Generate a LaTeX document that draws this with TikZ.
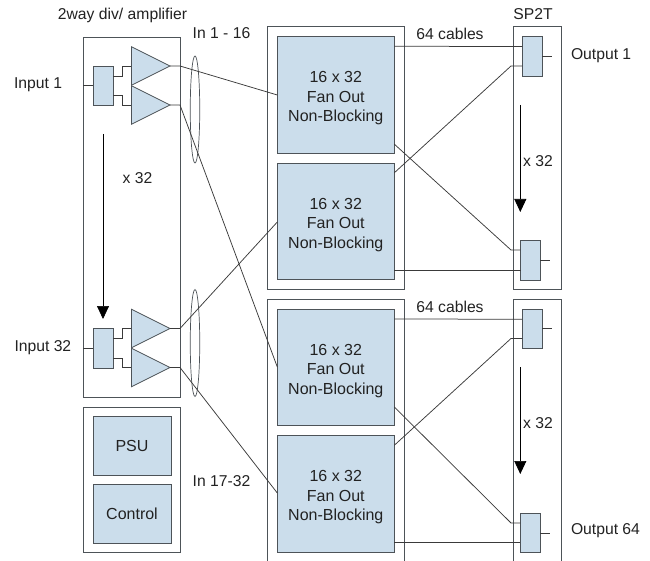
\documentclass[tikz,border=0pt]{standalone}
\usepackage{fontspec}
\setmainfont{Liberation Sans}
\usetikzlibrary{arrows.meta}
\usetikzlibrary{positioning}
\usetikzlibrary{shapes.geometric}
\definecolor{blockblue}{HTML}{CBDDEB}
\definecolor{edgegrey}{HTML}{4D5358}
\definecolor{wiregrey}{HTML}{3A3A3A}
\definecolor{labelgrey}{HTML}{222222}
\newcommand{\fantext}{\rule{0pt}{18pt}16 x 32\\Fan Out\\Non-Blocking}
\tikzset{
  label text/.style={font=\fontsize{15.7}{19}\selectfont, text=labelgrey, inner sep=0pt, outer sep=0pt},
  frame/.style={draw=edgegrey, line width=0.9pt, inner sep=0pt, outer sep=0pt, anchor=north west},
  block/.style={draw=edgegrey, fill=blockblue, line width=0.9pt, inner sep=0pt, outer sep=0pt, align=center,
    font=\fontsize{16}{19.5}\selectfont, text=labelgrey},
  fanout/.style={block, minimum width=117pt, minimum height=116.5pt},
  switchbox/.style={block, minimum width=20pt, minimum height=39.5pt},
  amp/.style={draw=edgegrey, fill=blockblue, line width=0.8pt, isosceles triangle, isosceles triangle stretches,
    minimum width=38.5pt, minimum height=38.5pt, inner sep=0pt, outer sep=0pt, anchor=apex},
  bundle/.style={draw=edgegrey, line width=0.7pt, ellipse, minimum width=9.5pt, minimum height=107pt, inner sep=0pt},
  wire/.style={draw=wiregrey, line width=0.75pt},
  repeat arrow/.style={draw=black, line width=0.7pt, -{Triangle[width=12pt,length=13pt]}},
}
\begin{document}
\begin{tikzpicture}[x=1pt,y=-1pt]
    \useasboundingbox (0,0) rectangle (650,561);

    % left column
    \node [frame, minimum width=97pt, minimum height=360pt] (inbox) at (83,37) {};
    \node [frame, minimum width=97pt, minimum height=145pt] (psubox) at (83,407) {};
    \node [block, minimum width=78pt, minimum height=59pt, anchor=north west] (psu) at (93,416.5) {PSU};
    \node [block, minimum width=78pt, minimum height=59pt, below=9pt of psu] (control) {Control};

    \node [switchbox, anchor=north west] (div1) at (93,66) {};
    \node [switchbox, anchor=north west] (div2) at (93,328.5) {};
    \node [amp] (amp1) at (170,66) {};
    \node [amp] (amp2) at (170,105) {};
    \node [amp] (amp3) at (170,328.5) {};
    \node [amp] (amp4) at (170,367.5) {};

    \node [bundle] (bundle1) at (195,109.5) {};
    \node [bundle] (bundle2) at (195,343) {};

    % fan out blocks
    \node [frame, minimum width=136.5pt, minimum height=262.5pt] (fanbox1) at (267.5,26.8) {};
    \node [fanout, anchor=north west] (fan1) at (277.3,36.6) {\fantext};
    \node [fanout, below=10pt of fan1] (fan2) {\fantext};
    \node [fanout, anchor=north west] (fan3) at (277.3,309.3) {\fantext};
    \node [fanout, below=10pt of fan3] (fan4) {\fantext};

    % SP2T column
    \node [frame, minimum width=48.5pt, minimum height=262.5pt] (outbox1) at (513,26.8) {};
    \node [switchbox, anchor=north west] (sw1) at (522.3,36.6) {};
    \node [switchbox, anchor=north west] (sw2) at (520.3,240.7) {};
    \node [switchbox, anchor=north west] (sw3) at (522.3,309.3) {};
    \node [switchbox, anchor=north west] (sw4) at (520.3,513) {};

    % lower frames run off the page
    \draw [edgegrey, line width=0.9pt] (267.5,561) |- (404,299) -- (404,561);
    \draw [edgegrey, line width=0.9pt] (513,561) |- (561.5,299) -- (561.5,561);

    % free ends
    \coordinate (fan1in) at (277.3,95);
    \coordinate (fan2in) at (277.3,222);
    \coordinate (fan3in) at (277.3,367);
    \coordinate (fan4in) at (277.3,493);
    \coordinate (turn1) at (511,66);
    \coordinate (turn2) at (511,250);
    \coordinate (turn3) at (511,338.5);
    \coordinate (turn4) at (511,523);
    \coordinate (out1) at (552,56);
    \coordinate (out2) at (550,260.5);
    \coordinate (out3) at (552,328.5);
    \coordinate (out4) at (550,533);
    \coordinate (rep1a) at (103,134);
    \coordinate (rep1b) at (103,319);
    \coordinate (rep2a) at (520.3,105);
    \coordinate (rep2b) at (520.3,212);
    \coordinate (rep3a) at (520.3,367);
    \coordinate (rep3b) at (520.3,474);

    % inside the divider boxes
    \draw [wire] (inbox.west |- div1.west) -- (div1.west);
    \draw [wire] (inbox.west |- div2.west) -- (div2.west);
    \draw [wire] ([yshift=9.7pt]div1.east) -- ++(9.5,0) |- (amp1.west);
    \draw [wire] ([yshift=-9.7pt]div1.east) -- ++(9.5,0) |- (amp2.west);
    \draw [wire] ([yshift=9.7pt]div2.east) -- ++(9.5,0) |- (amp3.west);
    \draw [wire] ([yshift=-9.7pt]div2.east) -- ++(9.5,0) |- (amp4.west);

    % amplifiers to fan out
    \draw [wire] (amp1.apex) -- (amp1.apex -| inbox.east) -- (fan1in);
    \draw [wire] (amp2.apex) -- (amp2.apex -| inbox.east) -- (fan3in);
    \draw [wire] (amp3.apex) -- (amp3.apex -| inbox.east) -- (fan2in);
    \draw [wire] (amp4.apex) -- (amp4.apex -| inbox.east) -- (fan4in);

    % fan out to switches
    \draw [wire] ([yshift=48.6pt]fan1.east) -- ([yshift=9.8pt]sw1.west);
    \draw [wire] ([yshift=-49.3pt]fan1.east) -- (turn2) -- (turn2 -| sw2.west);
    \draw [wire] ([yshift=-9.7pt]fan2.north east) -- (turn1) -- (turn1 -| sw1.west);
    \draw [wire] ([yshift=-9.8pt]sw2.west) -- (sw2.west |- 0,270.3) -- (fan2.east |- 0,270.3);
    \draw [wire] ([yshift=-9.7pt]fan3.north east) -- ([yshift=9.8pt]sw3.west);
    \draw [wire] ([yshift=-97.7pt]fan3.north east) -- (turn4) -- (turn4 -| sw4.west);
    \draw [wire] ([yshift=-9.5pt]fan4.north east) -- (turn3) -- (turn3 -| sw3.west);
    \draw [wire] (fan4.east |- 0,542.5) -- (sw4.west |- 0,542.5);

    % switch outputs
    \draw [wire] (sw1.east |- out1) -- (out1);
    \draw [wire] (sw2.east |- out2) -- (out2);
    \draw [wire] (sw3.east |- out3) -- (out3);
    \draw [wire] (sw4.east |- out4) -- (out4);

    \draw [repeat arrow] (rep1a) -- (rep1b);
    \draw [repeat arrow] (rep2a) -- (rep2b);
    \draw [repeat arrow] (rep3a) -- (rep3b);

    % labels
    \node [label text] (ampname) at (122.5,15) {2way div/ amplifier};
    \node [label text, anchor=west] (input1) at (14,85) {Input 1};
    \node [label text, anchor=west] (input32) at (14.5,347.5) {Input 32};
    \node [label text] (times1) at (137.5,178) {x 32};
    \node [label text] (in1) at (221.5,33.5) {In 1 - 16};
    \node [label text] (in2) at (221.5,481.5) {In 17-32};
    \node [label text] (cables1) at (450,33.5) {64 cables};
    \node [label text] (cables2) at (450,306.5) {64 cables};
    \node [label text] (sptname) at (533,14.5) {SP2T};
    \node [label text, anchor=west] (output1) at (571,56) {Output 1};
    \node [label text, anchor=west] (output64) at (571,531) {Output 64};
    \node [label text] (times2) at (538,161) {x 32};
    \node [label text] (times3) at (538,423.5) {x 32};
\end{tikzpicture}
\end{document}
